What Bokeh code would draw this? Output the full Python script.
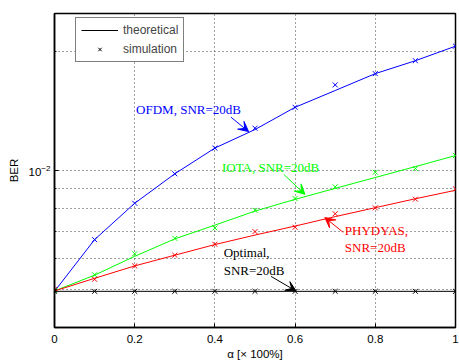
from bokeh.plotting import figure
from bokeh.models import (Range1d, FixedTicker, Legend, LegendItem,
                          Arrow, VeeHead, CustomJSTickFormatter, LogTickFormatter, Label)
from bokeh.embed import file_html
from bokeh.resources import INLINE

# ---------------- data ----------------
alpha = [0.0, 0.1, 0.2, 0.3, 0.4, 0.5, 0.6, 0.7, 0.8, 0.9, 1.0]

ofdm_theory = [4.94e-3, 6.68e-3, 8.26e-3, 9.81e-3, 1.14e-2, 1.27e-2, 1.446e-2, 1.595e-2, 1.76e-2, 1.898e-2, 2.066e-2]
ofdm_sim = [4.97e-3, 6.68e-3, 8.26e-3, 9.81e-3, 1.14e-2, 1.28e-2, 1.446e-2, 1.648e-2, 1.76e-2, 1.898e-2, 2.066e-2]

iota_theory = [4.95e-3, 5.43e-3, 6.06e-3, 6.71e-3, 7.27e-3, 7.89e-3, 8.45e-3, 9.01e-3, 9.60e-3, 1.023e-2, 1.091e-2]
iota_sim = [4.97e-3, 5.44e-3, 6.15e-3, 6.73e-3, 7.15e-3, 7.93e-3, 8.49e-3, 9.09e-3, 9.90e-3, 1.012e-2, 1.091e-2]

phydyas_theory = [4.95e-3, 5.33e-3, 5.73e-3, 6.10e-3, 6.49e-3, 6.86e-3, 7.23e-3, 7.64e-3, 8.05e-3, 8.48e-3, 8.91e-3]
phydyas_sim = [5.0e-3, 5.30e-3, 5.73e-3, 6.10e-3, 6.50e-3, 7.00e-3, 7.18e-3, 7.77e-3, 8.04e-3, 8.46e-3, 8.98e-3]

optimal_theory = [4.94e-3] * 11
optimal_sim = [4.94e-3] * 11

x_ticks = [0, 0.2, 0.4, 0.6, 0.8, 1.0]
x_grid = [0.2, 0.4, 0.6, 0.8]
y_major = [0.01]
y_minor = [0.005, 0.006, 0.007, 0.008, 0.009, 0.02]

# ---------------- figure ----------------
p = figure(width=459, height=362, x_range=Range1d(0, 1), y_range=Range1d(0.004, 0.025),
           y_axis_type="log", output_backend="svg", toolbar_location=None,
           min_border_left=54, min_border_right=4, min_border_top=13, min_border_bottom=34)

p.outline_line_color = "black"
p.outline_line_width = 1.5
p.background_fill_color = "white"
p.border_fill_color = "white"

SANS = "Liberation Sans"
SERIF = "Liberation Serif"

for ax in (p.xaxis[0], p.yaxis[0]):
    ax.axis_line_color = "black"
    ax.axis_line_width = 1.5
    ax.major_tick_in = 4
    ax.major_tick_out = 0
    ax.minor_tick_in = 2
    ax.minor_tick_out = 0
    ax.major_tick_line_color = "black"
    ax.minor_tick_line_color = "black"
    ax.major_label_text_font = SANS
    ax.major_label_text_font_size = "11.5px"
    ax.major_label_text_color = "black"
    ax.axis_label_text_font = SANS
    ax.axis_label_text_font_size = "11.5px"
    ax.axis_label_text_font_style = "normal"
    ax.axis_label_text_color = "black"

p.xaxis.ticker = FixedTicker(ticks=x_ticks, minor_ticks=[])
p.xaxis.formatter = CustomJSTickFormatter(code="return String(Math.round(tick*10)/10)")
p.xaxis.axis_label = "α [× 100%]"
p.xaxis.major_label_standoff = 7
p.xaxis.axis_label_standoff = 2

p.yaxis.ticker = FixedTicker(ticks=y_major, minor_ticks=y_minor)
p.yaxis.formatter = LogTickFormatter()
p.yaxis.axis_label = "BER"
p.yaxis.major_label_standoff = 4
p.yaxis.axis_label_standoff = 6

p.xgrid.ticker = FixedTicker(ticks=x_grid)
p.ygrid.ticker = FixedTicker(ticks=y_minor[:5] + y_major + y_minor[5:])
for g in (p.xgrid[0], p.ygrid[0]):
    g.grid_line_color = "#404040"
    g.grid_line_dash = "1 3"
    g.grid_line_width = 1

# ---------------- series ----------------
series = [
    (ofdm_theory, ofdm_sim, "#0000ff"),
    (iota_theory, iota_sim, "#00ff00"),
    (phydyas_theory, phydyas_sim, "#ff0000"),
]
for th, sim, col in series:
    p.line(alpha, th, line_color=col, line_width=1)
    p.scatter(alpha, sim, marker="x", size=7, line_color=col, line_width=1)

opt_line = p.line(alpha, optimal_theory, line_color="black", line_width=1)
opt_sim = p.scatter(alpha, optimal_sim, marker="x", size=7, line_color="black", line_width=1)

# ---------------- legend ----------------
legend = Legend(items=[LegendItem(label="theoretical", renderers=[opt_line]),
                       LegendItem(label="simulation", renderers=[opt_sim])],
                location=(21, 265), border_line_color="black", border_line_width=1,
                background_fill_color="white", background_fill_alpha=1.0,
                label_text_font=SANS, label_text_font_size="12px",
                glyph_width=37, glyph_height=12, label_height=12, spacing=5,
                padding=5, margin=0, label_standoff=5)
p.add_layout(legend)

# ---------------- annotations ----------------
labels = [
    ("OFDM, SNR=20dB", 0.2035, 1.43e-2, "#0000ff"),
    ("IOTA, SNR=20dB", 0.4177, 1.02e-2, "#00ff00"),
    ("PHYDYAS,\nSNR=20dB", 0.724, 6.71e-3, "#ff0000"),
    ("Optimal,\nSNR=20dB", 0.4219, 5.88e-3, "#000000"),
]
for txt, lx, ly, col in labels:
    p.add_layout(Label(x=lx, y=ly, text=txt, text_color=col, text_font=SERIF,
                       text_font_size="13px", text_baseline="middle", text_align="left",
                       text_line_height=1.15))

arrows = [
    (0.440, 1.365e-2, 0.484, 1.255e-2, "#0000ff"),
    (0.572, 9.77e-3, 0.6245, 8.7e-3, "#00ff00"),
    (0.720, 6.97e-3, 0.6742, 7.60e-3, "#ff0000"),
    (0.540, 5.39e-3, 0.6022, 4.95e-3, "#000000"),
]
for xs, ys, xe, ye, col in arrows:
    p.add_layout(Arrow(x_start=xs, y_start=ys, x_end=xe, y_end=ye, line_color=col, line_width=1,
                       end=VeeHead(size=10, fill_color=col, line_color=col, line_width=1)))

open("out.html", "w").write(file_html(p, INLINE))
